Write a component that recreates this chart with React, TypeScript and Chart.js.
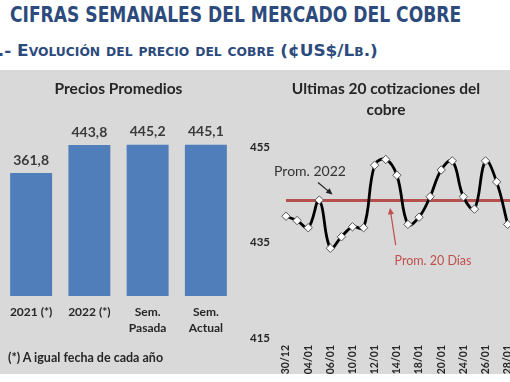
import React, { useEffect, useRef } from "react";
import { Chart, registerables } from "chart.js";

Chart.register(...registerables);

// ---- Data ----
const barCategories: (string | string[])[] = ["2021 (*)", "2022 (*)", ["Sem.", "Pasada"], ["Sem.", "Actual"]];
const barValues: number[] = [361.8, 443.8, 445.2, 445.1];

const dateLabels: string[] = [
  "30/12", "03/01", "04/01", "05/01", "06/01", "07/01", "10/01", "11/01", "12/01", "13/01", "14/01",
  "17/01", "18/01", "19/01", "20/01", "21/01", "24/01", "25/01", "26/01", "27/01", "28/01",
];
const priceValues: number[] = [
  440.5, 439.6, 438.1, 443.9, 433.8, 436.2, 438.3, 438.1, 451.2, 452.4, 449.1,
  438.8, 440.3, 444.6, 450.2, 452.1, 444.6, 442.0, 452.1, 447.7, 438.8,
];
const prom2022 = 443.8;
const yTicks: number[] = [415, 435, 455];

const FONT = "Lato, 'Open Sans', sans-serif";
const BLUE_TITLE = "#2C4A7C";

function fmt(v: number) {
  return v.toFixed(1).replace(".", ",");
}

function arrow(ctx: CanvasRenderingContext2D, x1: number, y1: number, x2: number, y2: number, color: string, head: number) {
  const ang = Math.atan2(y2 - y1, x2 - x1);
  ctx.save();
  ctx.strokeStyle = color;
  ctx.fillStyle = color;
  ctx.lineWidth = 1.2;
  ctx.beginPath();
  ctx.moveTo(x1, y1);
  ctx.lineTo(x2 - Math.cos(ang) * head * 0.6, y2 - Math.sin(ang) * head * 0.6);
  ctx.stroke();
  ctx.beginPath();
  ctx.moveTo(x2, y2);
  ctx.lineTo(x2 - head * Math.cos(ang - 0.45), y2 - head * Math.sin(ang - 0.45));
  ctx.lineTo(x2 - head * Math.cos(ang + 0.45), y2 - head * Math.sin(ang + 0.45));
  ctx.closePath();
  ctx.fill();
  ctx.restore();
}

function BarChart() {
  const ref = useRef<HTMLCanvasElement>(null);
  useEffect(() => {
    const valueLabels = {
      id: "valueLabels",
      afterDatasetsDraw(chart: any) {
        const ctx = chart.ctx;
        const meta = chart.getDatasetMeta(0);
        ctx.save();
        ctx.font = `bold 14px ${FONT}`;
        ctx.fillStyle = "#3a3a3a";
        ctx.textAlign = "center";
        ctx.textBaseline = "middle";
        meta.data.forEach((bar: any, i: number) => {
          ctx.fillText(fmt(barValues[i]), bar.x, bar.y - 13);
        });
        ctx.restore();
      },
    };
    const chart = new Chart(ref.current!, {
      type: "bar",
      data: {
        labels: barCategories as any,
        datasets: [
          {
            data: barValues,
            backgroundColor: "#4F7EBB",
            borderWidth: 0,
            barPercentage: 0.9,
            categoryPercentage: 0.8,
          },
        ],
      },
      options: {
        responsive: false,
        animation: false,
        events: [],
        layout: { padding: { left: 2, right: 10, top: 0, bottom: 0 } },
        plugins: {
          legend: { display: false },
          tooltip: { enabled: false },
          title: {
            display: true,
            text: "Precios Promedios",
            color: "#262626",
            font: { family: FONT, size: 15.5, weight: "bold", lineHeight: 1.2 },
            padding: { top: 10, bottom: 27.4 },
          },
        },
        scales: {
          x: {
            grid: { display: false, drawTicks: false },
            border: { display: false },
            ticks: {
              color: "#262626",
              font: { family: FONT, size: 12, weight: "bold", lineHeight: 1.33 },
              padding: 8,
              maxRotation: 0,
              autoSkip: false,
            },
            afterFit(scale: any) {
              scale.height = 78;
            },
          },
          y: {
            display: false,
            min: 0,
            max: 500,
          },
        },
      },
      plugins: [valueLabels],
    });
    return () => chart.destroy();
  }, []);
  return <canvas ref={ref} width={245} height={304} style={{ position: "absolute", left: 0, top: 70 }} />;
}

function LineChart() {
  const ref = useRef<HTMLCanvasElement>(null);
  useEffect(() => {
    const avgLine = {
      id: "avgLine",
      beforeDatasetsDraw(chart: any) {
        const ctx = chart.ctx;
        const y = chart.scales.y.getPixelForValue(prom2022);
        ctx.save();
        ctx.strokeStyle = "#B5504E";
        ctx.lineWidth = 3;
        ctx.beginPath();
        ctx.moveTo(chart.chartArea.left, y);
        ctx.lineTo(chart.width, y);
        ctx.stroke();
        ctx.restore();
      },
      afterDraw(chart: any) {
        const ctx = chart.ctx;
        const a = chart.chartArea;
        ctx.save();
        ctx.textAlign = "center";
        ctx.textBaseline = "middle";
        ctx.font = `14px ${FONT}`;
        ctx.fillStyle = "#333333";
        ctx.fillText("Prom. 2022", a.left + 24, a.top + 24);
        arrow(ctx, a.left + 32, a.top + 35.5, a.left + 46.5, a.top + 47.5, "#222222", 7);
        ctx.font = `12.5px ${FONT}`;
        ctx.fillStyle = "#C0504D";
        ctx.fillText("Prom. 20 Días", a.left + 147, a.top + 114);
        arrow(ctx, a.left + 109.7, a.top + 98, a.left + 104, a.top + 61, "#C0504D", 7);
        ctx.restore();
      },
    };
    const chart = new Chart(ref.current!, {
      type: "line",
      data: {
        labels: dateLabels,
        datasets: [
          {
            data: priceValues,
            borderColor: "#000000",
            borderWidth: 2.8,
            tension: 0.4,
            pointStyle: "rectRot",
            pointRadius: 4.2,
            pointBackgroundColor: "#ffffff",
            pointBorderColor: "#555555",
            pointBorderWidth: 1,
          },
        ],
      },
      options: {
        responsive: false,
        animation: false,
        events: [],
        layout: { padding: { left: 19.3, right: 22.3, top: 0, bottom: 0 } },
        plugins: {
          legend: { display: false },
          tooltip: { enabled: false },
          title: {
            display: true,
            text: ["Ultimas 20 cotizaciones del", "cobre"],
            color: "#262626",
            font: { family: FONT, size: 15.5, weight: "bold", lineHeight: 1.34 },
            padding: { top: 9, bottom: 26.5 },
          },
        },
        scales: {
          x: {
            grid: { display: false, drawTicks: false },
            border: { display: false },
            ticks: {
              color: "#262626",
              font: { family: FONT, size: 10.5, weight: "bold" },
              padding: 7,
              minRotation: 90,
              maxRotation: 90,
              autoSkip: false,
              callback: (_v: any, i: number) => (i % 2 === 0 ? dateLabels[i] : ""),
            },
            afterFit(scale: any) {
              scale.height = 36;
            },
          },
          y: {
            min: 415,
            max: 455,
            grid: { display: false, drawTicks: false },
            border: { display: false },
            afterBuildTicks(scale: any) {
              scale.ticks = yTicks.map((v) => ({ value: v }));
            },
            ticks: {
              color: "#262626",
              font: { family: FONT, size: 11.5, weight: "bold" },
              mirror: true,
              crossAlign: "near",
              padding: -36,
            },
            afterFit(scale: any) {
              scale.width = 21.7;
            },
          },
        },
      },
      plugins: [avgLine],
    });
    return () => chart.destroy();
  }, []);
  return <canvas ref={ref} width={285} height={304} style={{ position: "absolute", left: 245, top: 70 }} />;
}

export default function App() {
  return (
    <div
      style={{
        position: "absolute",
        left: 0,
        top: 0,
        width: 510,
        height: 382,
        overflow: "hidden",
        background: "#ffffff",
      }}
    >
      <div
        style={{
          position: "absolute",
          left: 10,
          top: 1,
          whiteSpace: "nowrap",
          fontFamily: "'DejaVu Sans', sans-serif",
          fontWeight: "bold",
          fontSize: 20.5,
          color: BLUE_TITLE,
          transform: "scaleX(0.835)",
          transformOrigin: "left top",
          lineHeight: "28px",
        }}
      >
        CIFRAS SEMANALES DEL MERCADO DEL COBRE
      </div>
      <div
        style={{
          position: "absolute",
          left: -14,
          top: 39,
          whiteSpace: "nowrap",
          fontFamily: "'DejaVu Sans', sans-serif",
          fontWeight: "bold",
          fontSize: 16.5,
          fontVariant: "small-caps",
          color: BLUE_TITLE,
          transform: "scaleX(1.025)",
          transformOrigin: "left top",
          lineHeight: "24px",
        }}
      >
        1.- Evolución del precio del cobre (¢US$/Lb.)
      </div>
      <div
        style={{
          position: "absolute",
          left: 0,
          top: 70,
          width: 510,
          height: 304,
          background: "#D9D9D9",
        }}
      />
      <BarChart />
      <LineChart />
      <div
        style={{
          position: "absolute",
          left: 8,
          top: 349,
          whiteSpace: "nowrap",
          fontFamily: FONT,
          fontWeight: "bold",
          fontSize: 12.5,
          color: "#262626",
          lineHeight: "18px",
        }}
      >
        (*) A igual fecha de cada año
      </div>
    </div>
  );
}
